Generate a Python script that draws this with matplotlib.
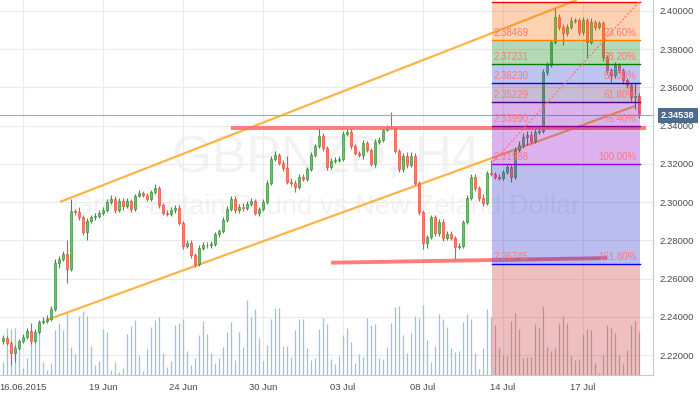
import matplotlib
matplotlib.use("Agg")
import matplotlib.pyplot as plt
import matplotlib.transforms as mtransforms
import numpy as np

plt.rcParams['font.family'] = ['Liberation Sans', 'DejaVu Sans']

# ---------------- data ----------------
first_open = 2.2274
closes = [2.2290, 2.2264, 2.2211, 2.2237, 2.2274, 2.2295, 2.2326, 2.2274, 2.2321, 2.2373,
          2.2379, 2.2389, 2.2441, 2.2682, 2.2703, 2.2729, 2.2651, 2.2954, 2.2949, 2.2923,
          2.2844, 2.2902, 2.2923, 2.2928, 2.2944, 2.2959, 2.3001, 2.3017, 2.2959, 2.3006,
          2.2980, 2.3006, 2.2964, 2.3032, 2.3048, 2.3038, 2.3017, 2.3053, 2.3074, 2.2985,
          2.2944, 2.2938, 2.2959, 2.2970, 2.2891, 2.2771, 2.2787, 2.2724, 2.2677, 2.2760,
          2.2776, 2.2775, 2.2781, 2.2834, 2.2849, 2.2907, 2.2964, 2.3017, 2.2959, 2.2975,
          2.2970, 2.2991, 2.3006, 2.2944, 2.2964, 2.3001, 2.3100, 2.3226, 2.3247, 2.3205,
          2.3179, 2.3106, 2.3100, 2.3080, 2.3132, 2.3121, 2.3174, 2.3247, 2.3294, 2.3346,
          2.3283, 2.3184, 2.3216, 2.3221, 2.3226, 2.3357, 2.3367, 2.3294, 2.3257, 2.3247,
          2.3310, 2.3273, 2.3200, 2.3315, 2.3325, 2.3378, 2.3393, 2.3388, 2.3268, 2.3174,
          2.3242, 2.3195, 2.3242, 2.3100, 2.2949, 2.2787, 2.2818, 2.2923, 2.2839, 2.2896,
          2.2813, 2.2834, 2.2813, 2.2766, 2.2771, 2.2896, 2.3022, 2.3132, 2.3074, 2.3022,
          2.2996, 2.3153, 2.3148, 2.3132, 2.3127, 2.3158, 2.3184, 2.3132, 2.3273, 2.3299,
          2.3341, 2.3351, 2.3320, 2.3367, 2.3372, 2.3681, 2.3718, 2.3838, 2.3969, 2.3916,
          2.3885, 2.3916, 2.3948, 2.3953, 2.3890, 2.3953, 2.3838, 2.3942, 2.3916, 2.3937,
          2.3759, 2.3691, 2.3665, 2.3718, 2.3691, 2.3639, 2.3613, 2.3550, 2.3555, 2.34538]
opens = [first_open] + closes[:-1]
highs = [2.2305, 2.2302, 2.2275, 2.2250, 2.2285, 2.2310, 2.2340, 2.2368, 2.2335, 2.2385,
         2.2400, 2.2410, 2.2455, 2.2700, 2.2720, 2.2745, 2.2800, 2.3017, 2.2965, 2.2975,
         2.2935, 2.2915, 2.2935, 2.2945, 2.2960, 2.2975, 2.3015, 2.3035, 2.3030, 2.3020,
         2.3020, 2.3020, 2.3015, 2.3045, 2.3065, 2.3060, 2.3050, 2.3065, 2.3095, 2.3085,
         2.2995, 2.2960, 2.2975, 2.2985, 2.2985, 2.2900, 2.2800, 2.2800, 2.2735, 2.2775,
         2.2790, 2.2790, 2.2795, 2.2845, 2.2860, 2.2920, 2.2980, 2.3030, 2.3030, 2.2990,
         2.2995, 2.3005, 2.3020, 2.3015, 2.2975, 2.3015, 2.3115, 2.3240, 2.3265, 2.3255,
         2.3220, 2.3240, 2.3125, 2.3115, 2.3145, 2.3145, 2.3185, 2.3260, 2.3305, 2.3388,
         2.3360, 2.3295, 2.3230, 2.3235, 2.3240, 2.3370, 2.3390, 2.3390, 2.3305, 2.3270,
         2.3325, 2.3320, 2.3285, 2.3330, 2.3340, 2.3390, 2.3405, 2.3472, 2.3400, 2.3280,
         2.3255, 2.3260, 2.3260, 2.3255, 2.3110, 2.2960, 2.2830, 2.2935, 2.2935, 2.2910,
         2.2910, 2.2850, 2.2850, 2.2825, 2.2785, 2.2905, 2.3035, 2.3145, 2.3145, 2.3085,
         2.3040, 2.3165, 2.3221, 2.3160, 2.3145, 2.3170, 2.3200, 2.3200, 2.3290, 2.3320,
         2.3360, 2.3370, 2.3370, 2.3385, 2.3400, 2.3695, 2.3735, 2.3850, 2.4016, 2.3985,
         2.3930, 2.3930, 2.3970, 2.3965, 2.3965, 2.3970, 2.3965, 2.3965, 2.3955, 2.3950,
         2.3950, 2.3770, 2.3700, 2.3735, 2.3730, 2.3700, 2.3650, 2.3625, 2.3625, 2.3570]
lows = [2.2260, 2.2250, 2.2148, 2.2164, 2.2225, 2.2265, 2.2285, 2.2260, 2.2262, 2.2310,
        2.2360, 2.2368, 2.2380, 2.2430, 2.2655, 2.2690, 2.2577, 2.2640, 2.2935, 2.2905,
        2.2830, 2.2800, 2.2890, 2.2905, 2.2915, 2.2935, 2.2950, 2.2990, 2.2945, 2.2950,
        2.2960, 2.2970, 2.2950, 2.2955, 2.3025, 2.3025, 2.3005, 2.3005, 2.3045, 2.2970,
        2.2930, 2.2925, 2.2925, 2.2945, 2.2880, 2.2755, 2.2760, 2.2710, 2.2661, 2.2665,
        2.2750, 2.2760, 2.2760, 2.2770, 2.2820, 2.2840, 2.2895, 2.2955, 2.2945, 2.2945,
        2.2955, 2.2960, 2.2980, 2.2930, 2.2925, 2.2955, 2.2990, 2.3090, 2.3215, 2.3195,
        2.3165, 2.3095, 2.3085, 2.3055, 2.3070, 2.3110, 2.3110, 2.3165, 2.3235, 2.3285,
        2.3270, 2.3170, 2.3175, 2.3205, 2.3210, 2.3215, 2.3345, 2.3280, 2.3245, 2.3235,
        2.3225, 2.3260, 2.3190, 2.3185, 2.3305, 2.3315, 2.3370, 2.3380, 2.3255, 2.3160,
        2.3160, 2.3180, 2.3185, 2.3090, 2.2935, 2.2755, 2.2760, 2.2805, 2.2825, 2.2825,
        2.2795, 2.2800, 2.2800, 2.2703, 2.2755, 2.2760, 2.2885, 2.3010, 2.3060, 2.3005,
        2.2980, 2.2985, 2.3135, 2.3120, 2.3115, 2.3115, 2.3145, 2.3105, 2.3120, 2.3260,
        2.3285, 2.3300, 2.3305, 2.3310, 2.3355, 2.3360, 2.3665, 2.3705, 2.3825, 2.3900,
        2.3822, 2.3870, 2.3905, 2.3935, 2.3875, 2.3875, 2.3754, 2.3825, 2.3900, 2.3905,
        2.3740, 2.3675, 2.3629, 2.3650, 2.3675, 2.3620, 2.3595, 2.3530, 2.3485, 2.3440]
volumes = [13, 47, 46, 47, 32, 7, 17, 33, 40, 53,
           13, 5, 12, 45, 52, 45, 63, 28, 21, 59,
           64, 59, 29, 10, 14, 46, 43, 5, 13, 3,
           7, 41, 49, 55, 19, 4, 26, 48, 55, 58,
           22, 8, 14, 50, 52, 56, 24, 10, 17, 40,
           54, 41, 22, 12, 17, 28, 43, 53, 15, 43,
           28, 75, 58, 66, 37, 14, 30, 56, 67, 67,
           29, 29, 18, 45, 56, 56, 27, 15, 17, 46,
           57, 51, 16, 11, 19, 40, 47,
           33, 12, 21, 18, 57, 50, 51, 17, 16, 28,
           52, 68, 69, 40, 22, 42, 59, 57, 70, 35,
           13, 29, 61, 56, 48, 27, 23, 24, 53, 61,
           56, 22, 6, 27, 66, 58, 50, 27, 20, 19,
           54, 62, 46, 17, 18, 18, 51, 47, 69, 28,
           24, 27, 52, 59, 52, 19, 15, 15, 41, 46,
           45, 12, 2, 20, 50, 47, 42, 20, 11, 25,
           50, 54, 43]
volume_scale_max = 375

date_tick_idx = [5, 25, 45, 65, 85, 105, 125, 145]
date_labels = ['16.06.2015', '19 Jun', '24 Jun', '30 Jun', '03 Jul', '08 Jul', '14 Jul', '17 Jul']
price_ticks = [2.22, 2.24, 2.26, 2.28, 2.30, 2.32, 2.34, 2.36, 2.38, 2.40]

fib_levels = [2.40472, 2.38469, 2.37231, 2.36230, 2.35229, 2.33990, 2.31988, 2.26745]
fib_pcts = ['0.00%', '23.60%', '38.20%', '50.00%', '61.80%', '76.40%', '100.00%', '161.80%']
fib_anchor_idx = [122, 159]
fib_anchor_price = [2.31988, 2.40472]

channel_upper_idx = [14.25, 143.5]
channel_upper_price = [2.3001, 2.4058]
channel_lower_idx = [11, 158]
channel_lower_price = [2.2384, 2.3503]
resist_idx = [57, 160.75]
resist_price = [2.3388, 2.3388]
support_idx = [82, 151]
support_price = [2.2683, 2.2707]

last_price = 2.34538
symbol = 'GBPNZD, H4'
description = 'Great Britain Pound vs New Zeland Dollar'

# ---------------- figure ----------------
fig = plt.figure(figsize=(7.0, 3.94), dpi=100)
ax = fig.add_axes([0, 19 / 394, 653 / 700, 375 / 394])
ax.set_xlim(-0.75, 162.5)
ax.set_ylim(2.20954, 2.40575)

idx = np.arange(len(closes))
o = np.array(opens)
c = np.array(closes)
h = np.array(highs)
l = np.array(lows)
up = c >= o

# watermark
ax.text(0.5, 0.5387, symbol, transform=ax.transAxes, ha='center', va='baseline',
        fontsize=37, color='black', alpha=0.05, zorder=0.5)
ax.text(0.5, 0.4293, description, transform=ax.transAxes, ha='center', va='baseline',
        fontsize=19.7, color='black', alpha=0.05, zorder=0.5)

# volume
vtrans = mtransforms.blended_transform_factory(ax.transData, ax.transAxes)
ax.vlines(idx, 0, np.array(volumes) / volume_scale_max, transform=vtrans,
          colors='#8cc6ec', linewidth=0.9, zorder=1)

# channel lines
ax.plot(channel_upper_idx, channel_upper_price, color='#ffb446', lw=1.6, zorder=2, solid_capstyle='butt')
ax.plot(channel_lower_idx, channel_lower_price, color='#ffb446', lw=1.6, zorder=2, solid_capstyle='butt')

# candles
up_fill, up_edge = '#6cc06c', '#3f913f'
dn_fill, dn_edge = '#ff7a68', '#e9503f'
wick_cols = [up_edge if u else dn_edge for u in up]
ax.vlines(idx, l, h, colors=wick_cols, linewidth=0.8, zorder=2.5)
ax.bar(idx[up], (c - o)[up], bottom=o[up], width=0.7, color=up_fill,
       edgecolor=up_edge, linewidth=0.5, zorder=3)
ax.bar(idx[~up], (c - o)[~up], bottom=o[~up], width=0.7, color=dn_fill,
       edgecolor=dn_edge, linewidth=0.5, zorder=3)

# support / resistance
ax.plot(resist_idx, resist_price, color='#ff6e6e', lw=2.8, alpha=0.9, zorder=4, solid_capstyle='butt')
ax.plot(support_idx, support_price, color='#ff6e6e', lw=2.8, alpha=0.9, zorder=4, solid_capstyle='butt')

# current price line
ax.axhline(last_price, color='#9aaabb', lw=0.8, zorder=4)

# fibonacci bands
fx0, fx1 = 122.2, 159.3
band_cols = ['#f86c00', '#088408', '#2d3acd', '#4b2376', '#8a05c0', '#9100cd', '#2026cd']
for k in range(len(fib_levels) - 1):
    ax.fill_between([fx0, fx1], fib_levels[k + 1], fib_levels[k], color=band_cols[k],
                    alpha=0.3, linewidth=0, zorder=5)
ax.fill_between([fx0, fx1], ax.get_ylim()[0], fib_levels[-1], color='#cd2d2d',
                alpha=0.3, linewidth=0, zorder=5)
line_cols = ['#ff0000', '#ff8000', '#008000', '#0000ff', '#4b0082', '#8b008b', '#9400d3', '#0000ff']
for lv, lc in zip(fib_levels, line_cols):
    ax.plot([fx0, fx1], [lv, lv], color=lc, lw=1.0, zorder=6)
ax.plot(fib_anchor_idx, fib_anchor_price, color='#ff7070', lw=0.9, ls=(0, (1.5, 1.5)), zorder=6)
for lv, pct in zip(fib_levels[1:], fib_pcts[1:]):
    ax.annotate(f'{lv:.5f}', xy=(122.7, lv), xytext=(0, 1.5), textcoords='offset points',
                ha='left', va='bottom', fontsize=7, color='#ff7878', zorder=7)
    ax.annotate(pct, xy=(158.3, lv), xytext=(0, 1.5), textcoords='offset points',
                ha='right', va='bottom', fontsize=7, color='#ff7878', zorder=7)

# price label box
ptrans = mtransforms.blended_transform_factory(ax.transAxes, ax.transData)
ax.text(1 + 8 / 653, last_price, f'{last_price:.5f}', transform=ptrans, ha='left', va='center',
        color='white', fontsize=6.7, fontweight='bold', clip_on=False, zorder=10,
        bbox=dict(boxstyle='square,pad=0.35', fc='#4b6b90', ec='none'))

# axes styling
ax.yaxis.tick_right()
ax.set_yticks(price_ticks)
ax.set_yticklabels([f'{v:.5f}' for v in price_ticks])
ax.set_xticks(date_tick_idx)
ax.set_xticklabels(date_labels)
ax.tick_params(axis='y', length=0, pad=4.5, labelsize=6.8, labelcolor='#4a4a4a')
ax.tick_params(axis='x', length=0, pad=5.5, labelsize=6.8, labelcolor='#4a4a4a')
ax.grid(True, color='#ebebeb', lw=0.8)
ax.set_axisbelow(True)
for s in ['left', 'top']:
    ax.spines[s].set_visible(False)
for s in ['right', 'bottom']:
    ax.spines[s].set_color('#c8c8c8')
    ax.spines[s].set_linewidth(0.8)

fig.savefig('out.png', dpi=100)
